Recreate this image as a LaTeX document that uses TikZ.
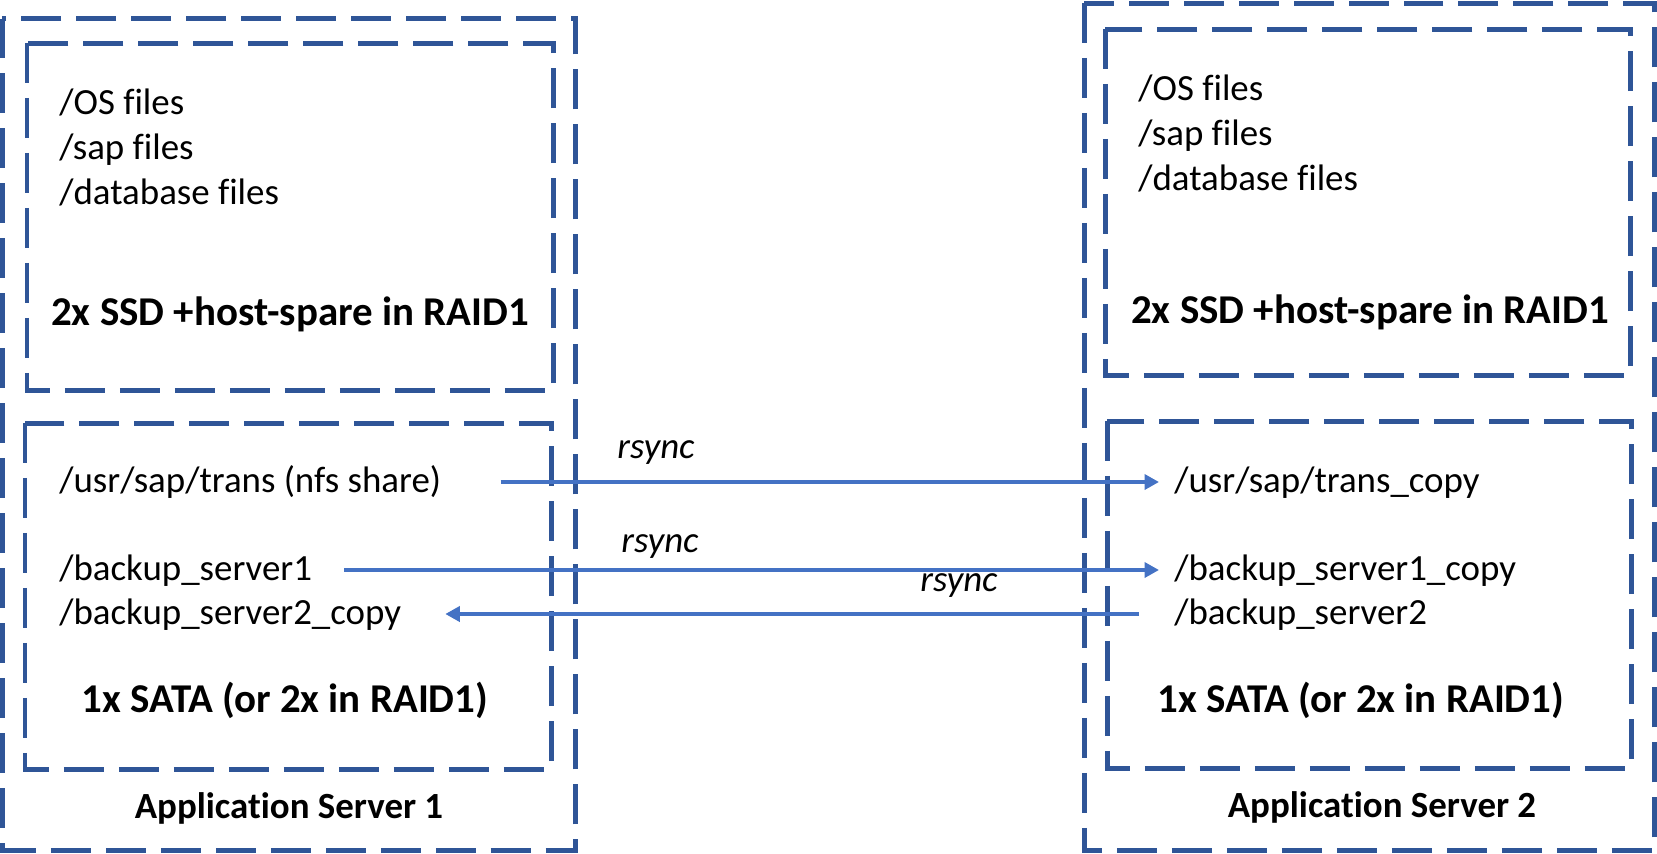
\documentclass[tikz,border=0pt]{standalone}
\usepackage{fontspec}
\setmainfont{Carlito}[Ligatures=NoCommon]
\usetikzlibrary{arrows.meta}
\definecolor{boxblue}{HTML}{2F5597}
\definecolor{arrowblue}{HTML}{4472C4}
\tikzset{>={Triangle[length=0.29cm,width=0.3cm]}}
\tikzset{
  disk/.style={draw=boxblue,line width=0.1cm,dash pattern=on 0.8cm off 0.3cm},
  fileitem/.style={anchor=west,inner sep=0pt,text height=0.56cm,text depth=0.16cm,
    font=\fontsize{21}{25}\selectfont},
  disklabel/.style={anchor=base,inner sep=0pt,font=\fontsize{23.3}{28}\selectfont\bfseries},
  srvname/.style={anchor=base,inner sep=0pt,font=\fontsize{21}{25}\selectfont\bfseries},
  sync/.style={->,draw=arrowblue,line width=0.095cm},
  synclabel/.style={inner sep=0pt,font=\fontsize{21}{25}\selectfont\itshape}
}

\begin{document}
\begin{tikzpicture}[x=0.02cm,y=-0.02cm]
  \useasboundingbox (0,0) rectangle (1657,853);
  % server 1
  \draw[disk] (2.5,18.5) rectangle (575,850);
  \draw[disk] (27,43) rectangle (553,390);
  \draw[disk] (25,423) rectangle (551,769);
  % server 2
  \draw[disk] (1084,3) rectangle (1654,850);
  \draw[disk] (1105,29) rectangle (1630,375);
  \draw[disk] (1107,421) rectangle (1631,768);

  \node[fileitem] (os1)  at (59,104) {/OS files};
  \node[fileitem] (sap1) at (59,149) {/sap files};
  \node[fileitem] (db1)  at (59,194) {/database files};
  \node[disklabel] (ssd1) at (290,325) {2x SSD +host-spare in RAID1};
  \node[fileitem] (trans)    at (59,482) {/usr/sap/trans (nfs share)};
  \node[fileitem] (bak1)     at (59,570) {/backup\_server1};
  \node[fileitem] (bak2copy) at (59,614) {/backup\_server2\_copy};
  \node[disklabel] (sata1) at (285,712) {1x SATA (or 2x in RAID1)};
  \node[srvname] (srv1) at (289,818) {Application Server 1};

  \node[fileitem] (os2)  at (1138,90) {/OS files};
  \node[fileitem] (sap2) at (1138,135) {/sap files};
  \node[fileitem] (db2)  at (1138,180) {/database files};
  \node[disklabel] (ssd2) at (1370,323) {2x SSD +host-spare in RAID1};
  \node[fileitem] (transcopy) at (1174,482) {/usr/sap/trans\_copy};
  \node[fileitem] (bak1copy)  at (1174,570) {/backup\_server1\_copy};
  \node[fileitem] (bak2)      at (1174,614) {/backup\_server2};
  \node[disklabel] (sata2) at (1361,712) {1x SATA (or 2x in RAID1)};
  \node[srvname] (srv2) at (1382,817) {Application Server 2};

  % rsync arrows
  \draw[sync,shorten <=1.18cm,shorten >=0.3cm] (trans.east) -- (transcopy.west);
  \draw[sync,shorten <=0.64cm,shorten >=0.3cm] (bak1.east) -- (bak1copy.west);
  \draw[sync,shorten <=0.7cm,shorten >=0.88cm] (bak2.west) -- (bak2copy.east);
  \node[synclabel] (rs1) at (656,453) {rsync};
  \node[synclabel] (rs2) at (660,547) {rsync};
  \node[synclabel] (rs3) at (959,586) {rsync};
\end{tikzpicture}
\end{document}
